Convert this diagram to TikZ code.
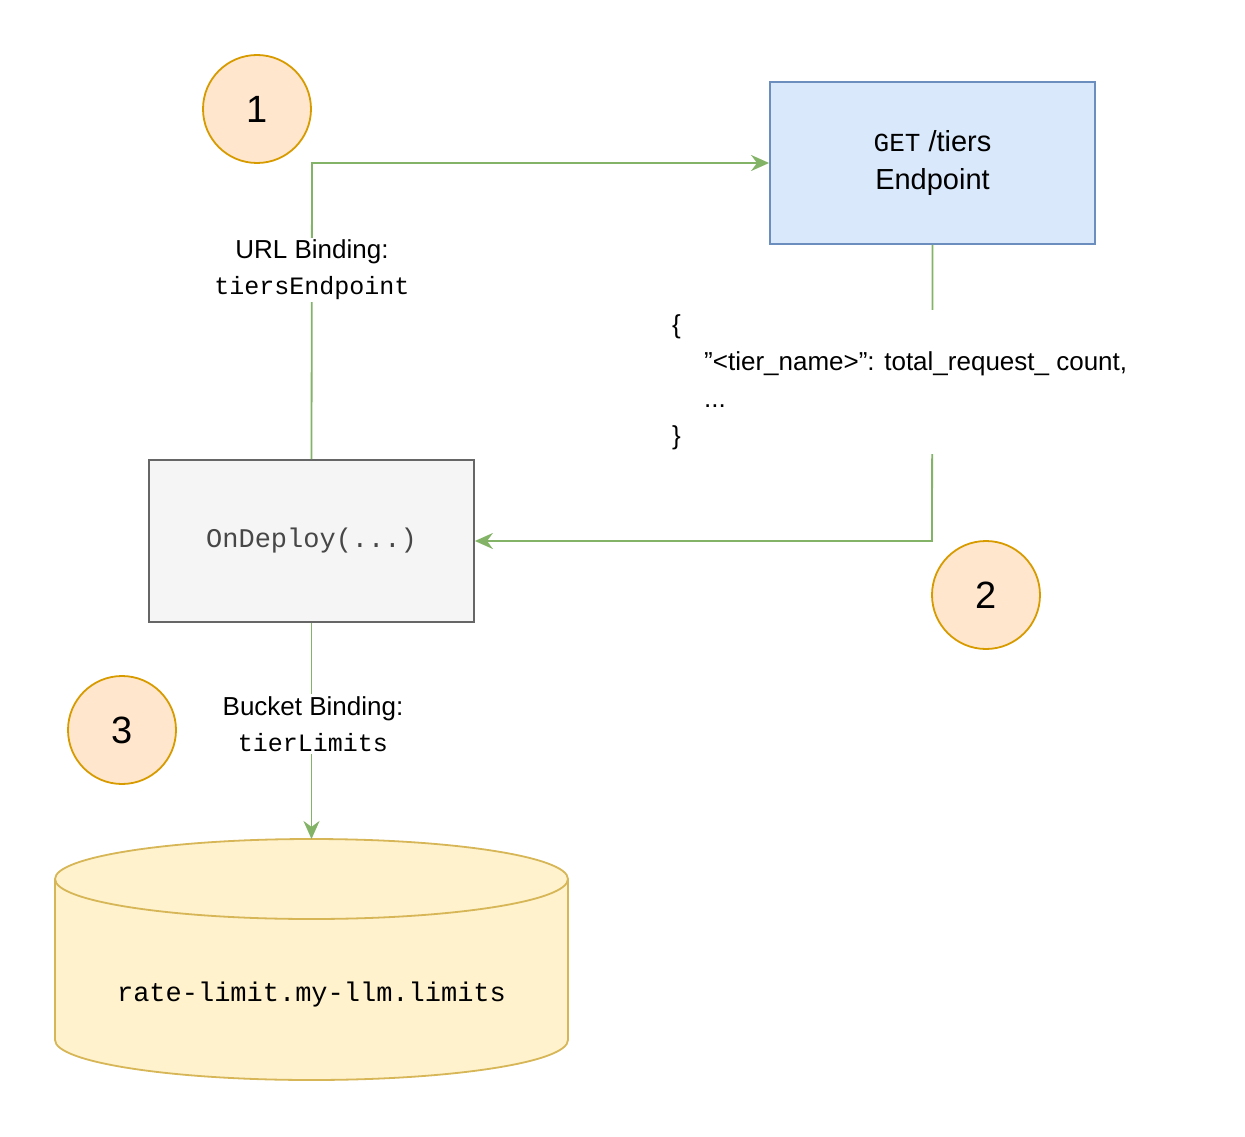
\documentclass[tikz,border=0pt]{standalone}
\usepackage{fontspec}
\setmainfont{Liberation Sans}
\setmonofont{Liberation Mono}
\usetikzlibrary{arrows.meta}
\definecolor{ofill}{HTML}{FFE6CC}\definecolor{odraw}{HTML}{D79B00}
\definecolor{bfill}{HTML}{DAE8FC}\definecolor{bdraw}{HTML}{6C8EBF}
\definecolor{gfill}{HTML}{F5F5F5}\definecolor{gdraw}{HTML}{666666}
\definecolor{yfill}{HTML}{FFF2CC}\definecolor{ydraw}{HTML}{D6B656}
\definecolor{edge}{HTML}{82B366}
\begin{document}
\begin{tikzpicture}[x=1pt,y=-1pt,
 num/.style={circle,draw=odraw,fill=ofill,line width=1.8pt,minimum size=108pt,inner sep=0pt,font=\fontsize{38}{44}\selectfont},
 box/.style={draw,line width=1.8pt,minimum width=325pt,minimum height=162pt,inner sep=0pt},
 conn/.style={draw=edge,line width=1.8pt,-{Stealth[length=18pt,width=16pt]}},
 lbl/.style={fill=white,font=\fontsize{26}{36}\selectfont,align=center,inner sep=2pt}]
\useasboundingbox (0,0) rectangle (1245,1137);
\node[num] (n1) at (257,109) {1};
\node[num] (n2) at (986,595) {2};
\node[num] (n3) at (122,730) {3};
\node[box,draw=bdraw,fill=bfill,align=center,font=\fontsize{29}{38}\selectfont] (ep) at (932.5,163) {{\ttfamily\fontsize{26}{38}\selectfont GET} /tiers\\Endpoint};
\node[box,draw=gdraw,fill=gfill,text=gdraw!70!black,font=\ttfamily\fontsize{27}{30}\selectfont] (od) at (311.5,541) {OnDeploy(...)};
% cylinder
\fill[yfill] (55,879) -- (55,1040) arc[start angle=180,end angle=0,x radius=256.5,y radius=40] -- (568,879) arc[start angle=0,end angle=-180,x radius=256.5,y radius=40] -- cycle;
\draw[ydraw,line width=1.8pt] (55,879) -- (55,1040) arc[start angle=180,end angle=0,x radius=256.5,y radius=40] -- (568,879);
\draw[ydraw,line width=1.8pt] (311.5,879) ellipse[x radius=256.5,y radius=40];
\coordinate (cyl) at (311.5,839);
\node[font=\ttfamily\fontsize{27}{30}\selectfont] (cl) at (311.5,995) {rate-limit.my-llm.limits};
\draw[conn] (od.north) -- (312,163) -- (ep.west);
\node[lbl] (l1) at (312,270) {URL Binding:\\{\ttfamily\fontsize{25}{36}\selectfont tiersEndpoint}};
\draw[conn] (ep.south) -- (932,541) -- (od.east);
\node[fill=white,anchor=north west,align=left,font=\fontsize{26}{37}\selectfont,inner sep=4pt,minimum height=144pt] (l2) at (668,310) {\{\\\hspace*{32pt}\char34<tier\_name>\char34: total\_request\_ count,\\\hspace*{32pt}...\\\}};
\draw[conn] (od.south) -- (cyl);
\node[lbl] (l3) at (313,724) {Bucket Binding:\\{\ttfamily\fontsize{25}{36}\selectfont tierLimits}};
\end{tikzpicture}
\end{document}
